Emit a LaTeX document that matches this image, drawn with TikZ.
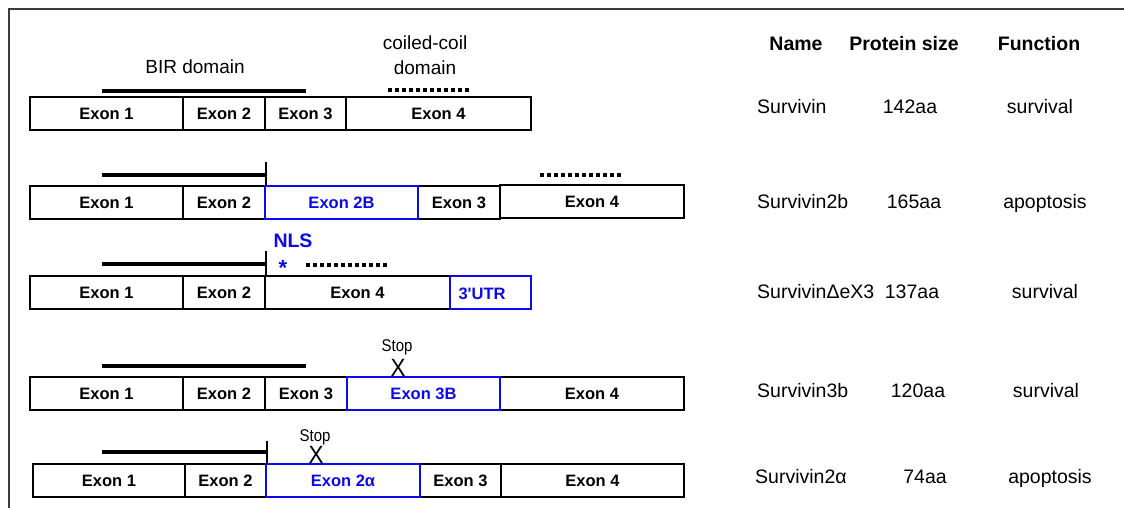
\documentclass[tikz,border=0pt]{standalone}
\usepackage{fontspec}
\setmainfont{Liberation Sans}
\newfontfamily\rawsans{Liberation Sans}[Ligatures=TeXOff]
\definecolor{exblue}{RGB}{10,10,235}
\definecolor{framegray}{RGB}{60,60,60}
\begin{document}
\begin{tikzpicture}[x=1pt,y=-1pt,
  exon/.style={draw, line width=2.5pt, minimum height=33pt, inner sep=0pt,
    font=\bfseries\fontsize{16.5}{16.5}\selectfont, text height=11.8pt, text depth=0pt},
  bexon/.style={exon, draw=exblue, text=exblue},
  bar/.style={line width=3.5pt},
  tick/.style={line width=2pt},
  dots/.style={line width=3.5pt, dash pattern=on 4pt off 3pt},
  lab/.style={font=\fontsize{19}{20}\selectfont, inner sep=0pt},
  head/.style={font=\bfseries\fontsize{19.5}{20}\selectfont, inner sep=0pt, anchor=base},
  cell/.style={font=\fontsize{19.5}{20}\selectfont, inner sep=0pt, anchor=base},
  stoptxt/.style={font=\fontsize{17}{17}\selectfont, inner sep=0pt, xscale=0.88},
  stopx/.style={font=\fontsize{25}{25}\selectfont, inner sep=0pt, text height=18pt, text depth=0pt, xscale=0.9}
]
\useasboundingbox (0,0) rectangle (1124,508);
% frame
\draw[framegray, line width=1.5pt] (1124,9) -- (9,9) -- (9,508);

% ---- Row 1: Survivin
\node[exon, minimum width=153pt] (a1) at (106.5,113.5) {Exon 1};
\node[exon, minimum width=82pt] (a2) at (224,113.5) {Exon 2};
\node[exon, minimum width=81pt] (a3) at (305.5,113.5) {Exon 3};
\node[exon, minimum width=185pt] (a4) at (438.5,113.5) {Exon 4};
\coordinate (abirL) at (102,91);
\coordinate (abirR) at (306,91);
\draw[bar] (abirL) -- (abirR);
\coordinate (accL) at (388,90);
\coordinate (accR) at (469,90);
\draw[dots] (accL) -- (accR);
\node[lab] (birtxt) at (195,67) {BIR domain};
\node[lab] (cctxt1) at (425,43) {coiled-coil};
\node[lab] (cctxt2) at (425,68) {domain};

% ---- Row 2: Survivin2b
\node[exon, minimum width=153pt] (b1) at (106.5,202.5) {Exon 1};
\node[exon, minimum width=82pt] (b2) at (224,202.5) {Exon 2};
\node[exon, minimum width=82pt] (b3) at (459,202.5) {Exon 3};
\node[exon, minimum width=184pt] (b4) at (592,201.5) {Exon 4};
\node[bexon, minimum width=153pt] (b2b) at (341.5,202.5) {Exon 2B};
\coordinate (bbarL) at (102,175);
\draw[bar] (bbarL) -- (b2.north east |- bbarL);
\draw[tick] (b2.north east) -- ++(0,-23);
\coordinate (bdL) at (540,175);
\coordinate (bdR) at (621,175);
\draw[dots] (bdL) -- (bdR);

% ---- Row 3: SurvivinDeltaeX3
\node[exon, minimum width=153pt] (c1) at (106.5,292.5) {Exon 1};
\node[exon, minimum width=82pt] (c2) at (224,292.5) {Exon 2};
\node[exon, minimum width=185pt] (c4) at (357.5,292.5) {Exon 4};
\node[bexon, minimum width=81pt] (cu) at (490.5,292.5) {};
\node[font=\rawsans\bfseries\fontsize{16.5}{16.5}\selectfont, text=exblue, inner sep=0pt, text height=11.8pt, text depth=0pt] (cutxt) at (482,294) {3'UTR};
\coordinate (cbarL) at (102,264);
\draw[bar] (cbarL) -- (c2.north east |- cbarL);
\draw[tick] (c2.north east) -- ++(0,-24);
\coordinate (cdL) at (306,265);
\coordinate (cdR) at (387,265);
\draw[dots] (cdL) -- (cdR);
\node[font=\bfseries\fontsize{19.5}{20}\selectfont, text=exblue, inner sep=0pt] (nls) at (293,241) {NLS};
\node[font=\bfseries\fontsize{22}{22}\selectfont, text=exblue, inner sep=0pt] (ast) at (283,268) {*};

% ---- Row 4: Survivin3b
\node[exon, minimum width=153pt] (d1) at (106.5,393.5) {Exon 1};
\node[exon, minimum width=82pt] (d2) at (224,393.5) {Exon 2};
\node[exon, minimum width=82pt] (d3) at (306,393.5) {Exon 3};
\node[exon, minimum width=184pt] (d4) at (592,393.5) {Exon 4};
\node[bexon, minimum width=153pt] (d3b) at (423.5,393.5) {Exon 3B};
\coordinate (dbarL) at (102,366);
\coordinate (dbarR) at (306,366);
\draw[bar] (dbarL) -- (dbarR);
\node[stoptxt] (dstop) at (397,347) {Stop};
\node[stopx, anchor=south] (dx) at (398,377) {X};

% ---- Row 5: Survivin2alpha
\node[exon, minimum width=152pt] (e1) at (109,480.5) {Exon 1};
\node[exon, minimum width=81pt] (e2) at (225.5,480.5) {Exon 2};
\node[exon, minimum width=81pt] (e3) at (460.5,480.5) {Exon 3};
\node[exon, minimum width=183pt] (e4) at (592.5,480.5) {Exon 4};
\node[bexon, minimum width=154pt] (e2a) at (343,480.5) {Exon 2α};
\coordinate (ebarL) at (102,452);
\draw[bar] (ebarL) -- (e2.north east |- ebarL);
\draw[tick] (e2.north east) -- ++(0,-22);
\node[stoptxt] (estop) at (315,437) {Stop};
\node[stopx, anchor=south] (ex) at (316,464) {X};

% ---- Table
\node[head] (hname) at (796,51) {Name};
\node[head] (hsize) at (904,51) {Protein size};
\node[head] (hfunc) at (1039,51) {Function};

\node[cell, anchor=base west] (n1) at (757,114) {Survivin};
\node[cell] (s1) at (910,114) {142aa};
\node[cell] (f1) at (1040,114) {survival};

\node[cell, anchor=base west] (n2) at (757,208) {Survivin2b};
\node[cell] (s2) at (914,208) {165aa};
\node[cell] (f2) at (1045,208) {apoptosis};

\node[cell, anchor=base west] (n3) at (757,298) {SurvivinΔeX3};
\node[cell] (s3) at (912,298) {137aa};
\node[cell] (f3) at (1045,298) {survival};

\node[cell, anchor=base west] (n4) at (757,397) {Survivin3b};
\node[cell] (s4) at (918,397) {120aa};
\node[cell] (f4) at (1046,397) {survival};

\node[cell, anchor=base west] (n5) at (755,483) {Survivin2α};
\node[cell] (s5) at (925,483) {74aa};
\node[cell] (f5) at (1050,483) {apoptosis};
\end{tikzpicture}
\end{document}
